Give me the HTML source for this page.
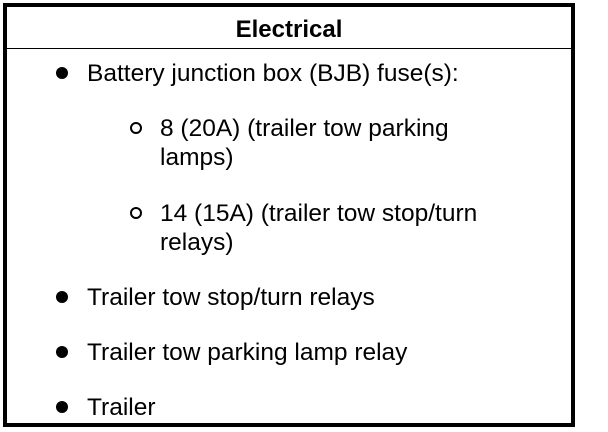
<!DOCTYPE html>
<html><head><style>body{margin:0;background:#fff}svg{display:block}</style></head>
<body>
<svg width="608" height="432" xmlns="http://www.w3.org/2000/svg" font-family="Liberation Sans, Arial, sans-serif" font-size="24.5" fill="#000">
<rect x="5" y="5" width="568" height="420" fill="none" stroke="#000" stroke-width="4"/>
<line x1="5" y1="48.5" x2="573" y2="48.5" stroke="#000" stroke-width="1"/>
<text x="289" y="37" text-anchor="middle" font-weight="bold" font-size="24">Electrical</text>
<circle cx="62" cy="73" r="6"/>
<text x="87" y="81">Battery junction box (BJB) fuse(s):</text>
<circle cx="136" cy="128" r="5" fill="none" stroke="#000" stroke-width="2"/>
<text x="160" y="136">8 (20A) (trailer tow parking</text>
<text x="160" y="165">lamps)</text>
<circle cx="136" cy="213" r="5" fill="none" stroke="#000" stroke-width="2"/>
<text x="160" y="221">14 (15A) (trailer tow stop/turn</text>
<text x="160" y="250">relays)</text>
<circle cx="62" cy="297" r="6"/>
<text x="87" y="305">Trailer tow stop/turn relays</text>
<circle cx="62" cy="352" r="6"/>
<text x="87" y="360">Trailer tow parking lamp relay</text>
<circle cx="62" cy="407" r="6"/>
<text x="87" y="415">Trailer</text>
</svg>
</body></html>
